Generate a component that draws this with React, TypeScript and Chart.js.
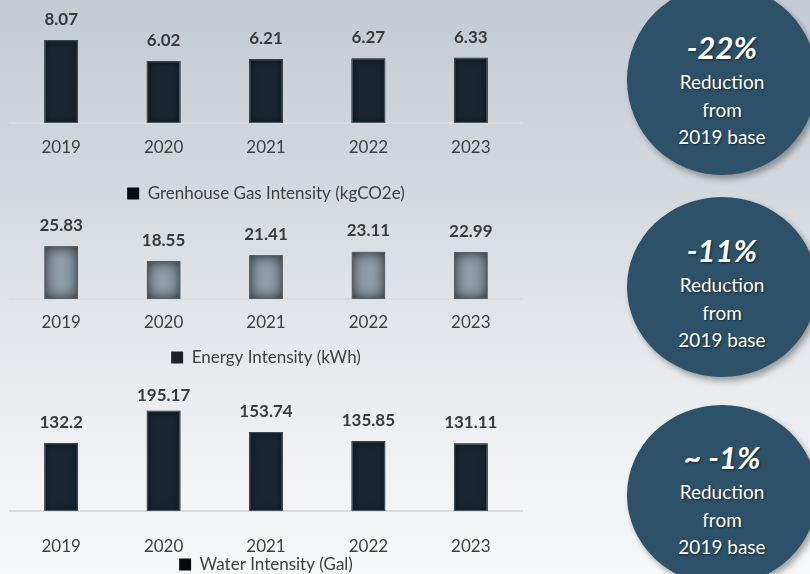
import React, { useEffect, useRef } from "react";
import { Chart, registerables } from "chart.js";

Chart.register(...registerables);

// ---- data ----
const years = ["2019", "2020", "2021", "2022", "2023"];
const ghgValues = [8.07, 6.02, 6.21, 6.27, 6.33];
const energyValues = [25.83, 18.55, 21.41, 23.11, 22.99];
const waterValues = [132.2, 195.17, 153.74, 135.85, 131.11];
const ghgLabel = "Grenhouse Gas Intensity (kgCO2e)";
const energyLabel = "Energy Intensity (kWh)";
const waterLabel = "Water Intensity (Gal)";
const reductionPcts = ["-22%", "-11%", "~ -1%"];
const reductionLines = ["Reduction", "from", "2019 base"];

const FONT = "Lato, 'Open Sans', sans-serif";

const barStylePlugin = {
  id: "barStyle",
  afterDatasetsDraw(chart: any, _args: any, opts: any) {
    const { ctx, chartArea } = chart;
    const meta = chart.getDatasetMeta(0);
    const data = chart.data.datasets[0].data;
    meta.data.forEach((bar: any, i: number) => {
      const { x, y, base, width } = bar.getProps(["x", "y", "base", "width"], true);
      const left = x - width / 2;
      const top = Math.min(y, base);
      const h = Math.abs(base - y);
      // inner shadow
      ctx.save();
      ctx.beginPath();
      ctx.rect(left, top, width, h);
      ctx.clip();
      ctx.beginPath();
      ctx.rect(left - 60, top - 60, width + 120, h + 120);
      ctx.rect(left, top, width, h);
      ctx.shadowColor = opts.shadowColor;
      ctx.shadowBlur = opts.shadowBlur;
      ctx.fillStyle = opts.shadowColor;
      ctx.fill("evenodd");
      ctx.restore();
      // outline
      ctx.save();
      ctx.strokeStyle = opts.outline;
      ctx.lineWidth = 1;
      ctx.strokeRect(left + 0.5, top + 0.5, width - 1, h - 1);
      ctx.restore();
      // value label
      ctx.save();
      ctx.font = `bold 17px ${FONT}`;
      ctx.fillStyle = "#3a3a3a";
      ctx.textAlign = "center";
      ctx.textBaseline = "middle";
      let ly = top - 21;
      if (opts.clampTop != null) ly = Math.max(ly, chartArea.top + opts.clampTop);
      ctx.fillText(String(data[i]), x, ly);
      ctx.restore();
    });
  },
};

type PanelProps = {
  top: number;
  height: number;
  values: number[];
  label: string;
  yMax: number;
  padTop: number;
  tickPad: number;
  xHeight: number;
  legendPad: number;
  barColor: string;
  legendColor: string;
  shadowColor: string;
  shadowBlur: number;
  outline: string;
  clampTop?: number;
};

function BarPanel(p: PanelProps) {
  const ref = useRef<HTMLCanvasElement | null>(null);
  useEffect(() => {
    if (!ref.current) return;
    const chart = new Chart(ref.current, {
      type: "bar",
      data: {
        labels: years,
        datasets: [
          {
            label: p.label,
            data: p.values,
            backgroundColor: p.barColor,
            borderWidth: 0,
            barThickness: 33,
          },
        ],
      },
      options: {
        animation: false,
        responsive: false,
        layout: { padding: { top: p.padTop, left: 10, right: 8, bottom: 0 } },
        scales: {
          x: {
            grid: { display: false, drawTicks: false },
            border: { display: true, color: "#dadcde", width: 2 },
            ticks: {
              padding: p.tickPad,
              color: "#404040",
              font: { family: FONT, size: 17 },
            },
            afterFit: (s: any) => {
              s.height = p.xHeight;
            },
          },
          y: { display: false, min: 0, max: p.yMax },
        },
        plugins: {
          legend: {
            position: "bottom",
            labels: {
              boxWidth: 12,
              boxHeight: 12,
              padding: p.legendPad,
              color: "#404040",
              font: { family: FONT, size: 17 },
              generateLabels: (c: any) => {
                const items = (Chart.defaults.plugins.legend.labels as any).generateLabels(c);
                items.forEach((it: any) => {
                  it.fillStyle = p.legendColor;
                  it.strokeStyle = p.legendColor;
                  it.lineWidth = 0;
                });
                return items;
              },
            },
          },
          tooltip: { enabled: false },
          barStyle: {
            shadowColor: p.shadowColor,
            shadowBlur: p.shadowBlur,
            outline: p.outline,
            clampTop: p.clampTop,
          },
        } as any,
      },
      plugins: [barStylePlugin],
    });
    return () => chart.destroy();
  }, []);
  return (
    <canvas
      ref={ref}
      width={530}
      height={p.height}
      style={{ position: "absolute", left: 0, top: p.top, width: 530, height: p.height }}
    />
  );
}

function Badge({ cx, cy, ry, textTop, pct }: { cx: number; cy: number; ry: number; textTop: number; pct: string }) {
  const rx = 95;
  return (
    <>
      <div
        style={{
          position: "absolute",
          left: cx - rx,
          top: cy - ry,
          width: rx * 2,
          height: ry * 2,
          borderRadius: "50%",
          background: "#2c5169",
          boxShadow: "3px 4px 6px rgba(0,0,0,0.35)",
        }}
      />
      <div
        style={{
          position: "absolute",
          left: cx - rx,
          top: textTop,
          width: rx * 2,
          textAlign: "center",
          color: "#ffffff",
          fontFamily: FONT,
          textShadow: "1px 1px 2px rgba(0,0,0,0.55)",
        }}
      >
        <div style={{ fontSize: 31, fontWeight: 700, fontStyle: "italic", lineHeight: "42px" }}>{pct}</div>
        {reductionLines.map((l) => (
          <div key={l} style={{ fontSize: 19, lineHeight: "27.5px" }}>
            {l}
          </div>
        ))}
      </div>
    </>
  );
}

export default function App() {
  return (
    <div
      style={{
        position: "fixed",
        left: 0,
        top: 0,
        width: 810,
        height: 574,
        overflow: "hidden",
        background: "linear-gradient(to bottom, #c4cbd2 0%, #d5dadf 35%, #e9ecef 66%, #f7f8f9 100%)",
      }}
    >
      <BarPanel
        top={0}
        height={212}
        values={ghgValues}
        label={ghgLabel}
        yMax={12}
        padTop={0}
        tickPad={14}
        xHeight={52}
        legendPad={10}
        barColor="#18252f"
        legendColor="#070b0f"
        shadowColor="rgba(2,6,10,0.85)"
        shadowBlur={7}
        outline="rgba(95,105,115,0.8)"
      />
      <BarPanel
        top={205}
        height={171}
        values={energyValues}
        label={energyLabel}
        yMax={30}
        padTop={33}
        tickPad={13}
        xHeight={40}
        legendPad={10}
        barColor="#909eaa"
        legendColor="#1e2226"
        shadowColor="rgba(25,30,35,1)"
        shadowBlur={14}
        outline="rgba(90,96,102,0.9)"
      />
      <BarPanel
        top={380}
        height={203}
        values={waterValues}
        label={waterLabel}
        yMax={240}
        padTop={8}
        tickPad={25}
        xHeight={45}
        legendPad={0}
        barColor="#18252f"
        legendColor="#070b0f"
        shadowColor="rgba(2,6,10,0.85)"
        shadowBlur={7}
        outline="rgba(95,105,115,0.8)"
        clampTop={8}
      />
      <Badge cx={722} cy={80} ry={95} textTop={26} pct={reductionPcts[0]} />
      <Badge cx={722} cy={287} ry={90} textTop={229} pct={reductionPcts[1]} />
      <Badge cx={722} cy={495} ry={90} textTop={436} pct={reductionPcts[2]} />
    </div>
  );
}
